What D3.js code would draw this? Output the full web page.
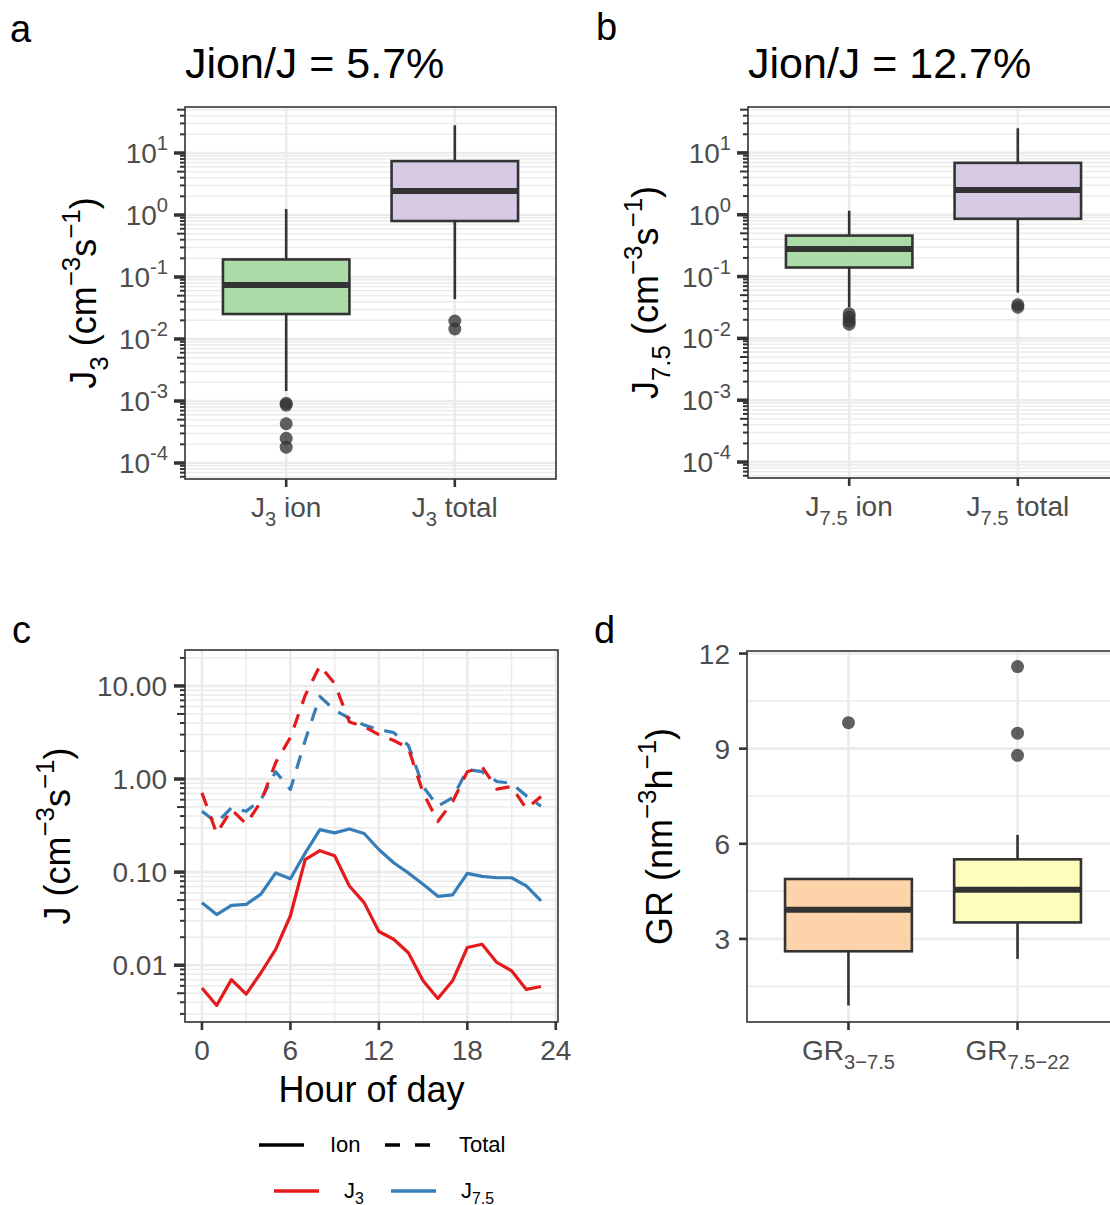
<!DOCTYPE html>
<html>
<head>
<meta charset="utf-8">
<script src="https://cdn.jsdelivr.net/npm/d3@7"></script>
<style>
  body { margin: 0; background: #fff; }
  svg { display: block; }
</style>
</head>
<body>
<div id="canvas"></div>
<script>
"use strict";

// ---- data ----
// box stats (lo/hi = whisker ends)
let boxA = [
  { lo: 0.00145, q1: 0.0253, med: 0.074, q3: 0.192, hi: 1.25, out: [0.00092, 0.00086, 0.00043, 0.00025, 0.00018] },
  { lo: 0.044, q1: 0.80, med: 2.44, q3: 7.4, hi: 28, out: [0.0195, 0.0145] }
];
let boxB = [
  { lo: 0.032, q1: 0.14, med: 0.28, q3: 0.46, hi: 1.16, out: [0.025, 0.022, 0.019, 0.017] },
  { lo: 0.055, q1: 0.86, med: 2.5, q3: 6.9, hi: 25, out: [0.035, 0.032] }
];
let boxD = [
  { lo: 0.9, q1: 2.61, med: 3.92, q3: 4.89, hi: 4.89, out: [9.82] },
  { lo: 2.37, q1: 3.52, med: 4.55, q3: 5.51, hi: 6.28, out: [11.59, 9.49, 8.79] }
];
let titleA = "Jion/J = 5.7%";
let titleB = "Jion/J = 12.7%";
let catLabelsA = [["J", "_3", " ion"], ["J", "_3", " total"]];
let catLabelsB = [["J", "_7.5", " ion"], ["J", "_7.5", " total"]];
let catLabelsD = [["GR", "_3\u22127.5"], ["GR", "_7.5\u221222"]];

let hours = d3.range(0, 24);
let j3Ion = [0.0057, 0.0037, 0.0070, 0.0049, 0.0083, 0.0148, 0.034, 0.136, 0.17, 0.15, 0.071, 0.047,
             0.023, 0.019, 0.0136, 0.0068, 0.0044, 0.0068, 0.0155, 0.0168, 0.0107, 0.0087, 0.0055, 0.0059];
let j75Ion = [0.047, 0.035, 0.044, 0.045, 0.058, 0.098, 0.085, 0.16, 0.286, 0.264, 0.291, 0.26,
              0.175, 0.126, 0.098, 0.074, 0.055, 0.057, 0.097, 0.090, 0.087, 0.087, 0.071, 0.049];
let j3Total = [0.71, 0.26, 0.47, 0.33, 0.57, 1.5, 2.8, 7.9, 16.5, 10.6, 4.1, 3.66,
               3.0, 2.6, 2.15, 0.71, 0.35, 0.57, 1.2, 1.36, 0.78, 0.83, 0.48, 0.65];
let j75Total = [0.45, 0.34, 0.49, 0.45, 0.60, 1.2, 0.77, 2.6, 7.7, 5.5, 4.5, 3.8,
                3.4, 3.16, 2.3, 0.83, 0.51, 0.63, 1.26, 1.2, 0.94, 0.9, 0.66, 0.51];
let hourTicks = [0, 6, 12, 18, 24];
let cTicks = [0.01, 0.1, 1, 10];
let cTickLabels = ["0.01", "0.10", "1.00", "10.00"];
let dTicks = [3, 6, 9, 12];

// ---- look ----
let svgWidth = 1110;
let svgHeight = 1205;
let font = "'Liberation Sans', Arial, Helvetica, sans-serif";
let dark = "#333333";
let gridCol = "#ebebeb";
let tickTextCol = "#4d4d4d";
let red = "#e41a1c";
let blue = "#377eb8";

let svg = d3.select("#canvas")
  .append("svg")
  .attr("width", svgWidth)
  .attr("height", svgHeight)
  .style("font-family", font);

// text with _sub and ^sup parts
function richText(g, x, y, parts, size, opts) {
  opts = opts || {};
  let subK = opts.sub || 0.32;
  let t = g.append("text")
    .attr("x", x)
    .attr("y", y)
    .attr("font-size", size)
    .attr("fill", opts.color || "#000")
    .attr("text-anchor", opts.anchor || "start");
  if (opts.rotate) t.attr("transform", "rotate(-90," + x + "," + y + ")");
  let cur = 0;
  parts.forEach(function(p) {
    let off = 0, fs = size, s = p;
    if (p[0] === "_") { off = subK * size; fs = 0.72 * size; s = p.slice(1); }
    else if (p[0] === "^") { off = -0.45 * size; fs = 0.72 * size; s = p.slice(1); }
    t.append("tspan").attr("dy", off - cur).attr("font-size", fs).text(s);
    cur = off;
  });
  return t;
}

function logValues(lo, hi, mults) {
  let vals = [];
  for (let e = Math.floor(Math.log10(lo)) - 1; e <= Math.ceil(Math.log10(hi)); e++) {
    mults.forEach(function(m) {
      let v = m * Math.pow(10, e);
      if (v >= lo && v <= hi) vals.push({ v: v, m: m });
    });
  }
  return vals;
}

function hLines(g, yScale, vals, x0, x1, width) {
  g.selectAll(null).data(vals).enter().append("line")
    .attr("x1", x0).attr("x2", x1)
    .attr("y1", function(d) { return yScale(d.v !== undefined ? d.v : d); })
    .attr("y2", function(d) { return yScale(d.v !== undefined ? d.v : d); })
    .attr("stroke", gridCol)
    .attr("stroke-width", width);
}

function vLines(g, xScale, vals, y0, y1, width) {
  g.selectAll(null).data(vals).enter().append("line")
    .attr("y1", y0).attr("y2", y1)
    .attr("x1", function(d) { return xScale(d); })
    .attr("x2", function(d) { return xScale(d); })
    .attr("stroke", gridCol)
    .attr("stroke-width", width);
}

// log ticks drawn just left of the panel
function logTicks(g, yScale, x0) {
  let dom = yScale.domain();
  let vals = logValues(dom[0], dom[1], [1, 2, 3, 4, 5, 6, 7, 8, 9]);
  g.selectAll(null).data(vals).enter().append("line")
    .attr("x1", function(d) { return x0 - (d.m === 1 ? 11 : d.m === 5 ? 8 : 5); })
    .attr("x2", x0)
    .attr("y1", function(d) { return yScale(d.v); })
    .attr("y2", function(d) { return yScale(d.v); })
    .attr("stroke", dark)
    .attr("stroke-width", function(d) { return d.m === 1 ? 3.5 : 2; });
}

function logGrid(g, yScale, x0, x1) {
  let dom = yScale.domain();
  hLines(g, yScale, logValues(dom[0], dom[1], [2, 3, 4, 5, 6, 7, 8, 9]), x0, x1, 1.5);
  hLines(g, yScale, logValues(dom[0], dom[1], [1]), x0, x1, 2.6);
}

function frame(g, x0, x1, y0, y1) {
  g.append("rect")
    .attr("x", x0).attr("y", y0)
    .attr("width", x1 - x0).attr("height", y1 - y0)
    .attr("fill", "none")
    .attr("stroke", dark)
    .attr("stroke-width", 1.6);
}

function bottomTicks(g, xs, xScale, y) {
  g.selectAll(null).data(xs).enter().append("line")
    .attr("x1", function(d) { return xScale(d); })
    .attr("x2", function(d) { return xScale(d); })
    .attr("y1", y).attr("y2", y + 8)
    .attr("stroke", dark)
    .attr("stroke-width", 2.6);
}

function drawBoxes(g, data, xScale, yScale, fills) {
  let half = (xScale(1.375) - xScale(1)) ;
  data.forEach(function(d, i) {
    let cx = xScale(i + 1);
    // whiskers
    g.append("line").attr("x1", cx).attr("x2", cx)
      .attr("y1", yScale(d.hi)).attr("y2", yScale(d.q3))
      .attr("stroke", dark).attr("stroke-width", 2.6);
    g.append("line").attr("x1", cx).attr("x2", cx)
      .attr("y1", yScale(d.q1)).attr("y2", yScale(d.lo))
      .attr("stroke", dark).attr("stroke-width", 2.6);
    g.append("rect")
      .attr("x", cx - half)
      .attr("y", yScale(d.q3))
      .attr("width", half * 2)
      .attr("height", yScale(d.q1) - yScale(d.q3))
      .attr("fill", fills[i])
      .attr("fill-opacity", 0.9)
      .attr("stroke", dark)
      .attr("stroke-width", 2.6);
    g.append("line")
      .attr("x1", cx - half).attr("x2", cx + half)
      .attr("y1", yScale(d.med)).attr("y2", yScale(d.med))
      .attr("stroke", dark).attr("stroke-width", 6);
    g.selectAll(null).data(d.out).enter().append("circle")
      .attr("cx", cx)
      .attr("cy", function(v) { return yScale(v); })
      .attr("r", 6.5)
      .attr("fill", dark)
      .attr("fill-opacity", 0.78);
  });
}

function panelLetter(txt, x, y) {
  svg.append("text").attr("x", x).attr("y", y)
    .attr("font-size", 38).attr("fill", "#000").text(txt);
}

// ---- panels a & b (log box plots) ----
function logBoxPanel(cfg) {
  let g = svg.append("g");
  let x = d3.scaleLinear().domain([0.4, 2.6]).range([cfg.x0, cfg.x1]);
  let y = d3.scaleLog().domain([Math.pow(10, -4.258), Math.pow(10, 1.742)]).range([cfg.y1, cfg.y0]);

  logGrid(g, y, cfg.x0, cfg.x1);
  vLines(g, x, [1, 2], cfg.y0, cfg.y1, 2.6);
  drawBoxes(g, cfg.data, x, y, cfg.fills);
  frame(g, cfg.x0, cfg.x1, cfg.y0, cfg.y1);
  logTicks(g, y, cfg.x0);
  bottomTicks(g, [1, 2], x, cfg.y1);

  // y tick labels 10^k
  [-4, -3, -2, -1, 0, 1].forEach(function(k) {
    richText(g, cfg.x0 - 17, y(Math.pow(10, k)) + 10, ["10", "^" + (k < 0 ? "-" : "") + Math.abs(k)], 28,
      { anchor: "end", color: tickTextCol });
  });
  cfg.labels.forEach(function(parts, i) {
    richText(g, x(i + 1), cfg.y1 + 38, parts, 28, { anchor: "middle", color: tickTextCol });
  });
  richText(g, cfg.ylabX, (cfg.y0 + cfg.y1) / 2, cfg.ylab, 36, { anchor: "middle", rotate: true });
  g.append("text").attr("x", cfg.x0).attr("y", 78)
    .attr("font-size", 43).attr("fill", "#000").text(cfg.title);
}

logBoxPanel({
  x0: 185, x1: 556, y0: 107, y1: 479, data: boxA,
  fills: ["#a3d89f", "#d3c4e1"], labels: catLabelsA, title: titleA,
  ylab: ["J", "_3", " (cm", "^\u22123", "s", "^\u22121", ")"], ylabX: 96
});
logBoxPanel({
  x0: 748, x1: 1119, y0: 107, y1: 478, data: boxB,
  fills: ["#a3d89f", "#d3c4e1"], labels: catLabelsB, title: titleB,
  ylab: ["J", "_7.5", " (cm", "^\u22123", "s", "^\u22121", ")"], ylabX: 658
});

// ---- panel c (diurnal lines) ----
(function() {
  let x0 = 185, x1 = 558, y0 = 650, y1 = 1022;
  let g = svg.append("g");
  let x = d3.scaleLinear().domain([-1.15, 24.15]).range([x0, x1]);
  let y = d3.scaleLog().domain([Math.pow(10, -2.61), Math.pow(10, 1.386)]).range([y1, y0]);

  logGrid(g, y, x0, x1);
  vLines(g, x, [3, 9, 15, 21], y0, y1, 1.5);
  vLines(g, x, hourTicks, y0, y1, 2.6);

  let line = d3.line()
    .x(function(d, i) { return x(hours[i]); })
    .y(function(d) { return y(d); });

  let series = [
    { v: j75Total, c: blue, dash: "14,11" },
    { v: j3Total, c: red, dash: "14,11" },
    { v: j75Ion, c: blue, dash: null },
    { v: j3Ion, c: red, dash: null }
  ];
  series.forEach(function(s) {
    g.append("path")
      .attr("d", line(s.v))
      .attr("fill", "none")
      .attr("stroke", s.c)
      .attr("stroke-width", 3.2)
      .attr("stroke-linejoin", "round")
      .attr("stroke-dasharray", s.dash);
  });

  frame(g, x0, x1, y0, y1);
  logTicks(g, y, x0);
  bottomTicks(g, hourTicks, x, y1);

  g.selectAll(null).data(hourTicks).enter().append("text")
    .attr("x", function(d) { return x(d); })
    .attr("y", y1 + 38)
    .attr("text-anchor", "middle")
    .attr("font-size", 28)
    .attr("fill", tickTextCol)
    .text(function(d) { return d; });
  g.selectAll(null).data(cTicks).enter().append("text")
    .attr("x", x0 - 18)
    .attr("y", function(d) { return y(d) + 10; })
    .attr("text-anchor", "end")
    .attr("font-size", 28)
    .attr("fill", tickTextCol)
    .text(function(d, i) { return cTickLabels[i]; });

  g.append("text")
    .attr("x", (x0 + x1) / 2).attr("y", 1102)
    .attr("text-anchor", "middle")
    .attr("font-size", 36)
    .text("Hour of day");
  richText(g, 70, (y0 + y1) / 2, ["J (cm", "^\u22123", "s", "^\u22121", ")"], 36, { anchor: "middle", rotate: true });

  // legend
  let lg = svg.append("g");
  let rows = [
    [{ x: 259, c: "#000", dash: null, label: ["Ion"], tx: 330 },
     { x: 385, c: "#000", dash: "15,15", label: ["Total"], tx: 459 }],
    [{ x: 274, c: red, dash: null, label: ["J", "_3"], tx: 344 },
     { x: 391, c: blue, dash: null, label: ["J", "_7.5"], tx: 461 }]
  ];
  let rowY = [1145, 1191];
  rows.forEach(function(row, r) {
    row.forEach(function(k) {
      lg.append("line")
        .attr("x1", k.x).attr("x2", k.x + 45)
        .attr("y1", rowY[r]).attr("y2", rowY[r])
        .attr("stroke", k.c)
        .attr("stroke-width", 3.6)
        .attr("stroke-dasharray", k.dash);
      richText(lg, k.tx, rowY[r] + 7, k.label, 22, { sub: 0.25 });
    });
  });
})();

// ---- panel d (growth rate boxes) ----
(function() {
  let x0 = 747, x1 = 1119, y0 = 651, y1 = 1022;
  let g = svg.append("g");
  let x = d3.scaleLinear().domain([0.4, 2.6]).range([x0, x1]);
  let y = d3.scaleLinear().domain([0.38, 12.08]).range([y1, y0]);

  hLines(g, y, [1.5, 4.5, 7.5, 10.5], x0, x1, 1.5);
  hLines(g, y, dTicks, x0, x1, 2.6);
  vLines(g, x, [1, 2], y0, y1, 2.6);
  drawBoxes(g, boxD, x, y, ["#fdcfa0", "#fefdb4"]);
  frame(g, x0, x1, y0, y1);
  bottomTicks(g, [1, 2], x, y1);

  g.selectAll(null).data(dTicks).enter().append("line")
    .attr("x1", x0 - 8).attr("x2", x0)
    .attr("y1", function(d) { return y(d); })
    .attr("y2", function(d) { return y(d); })
    .attr("stroke", dark).attr("stroke-width", 2.6);
  g.selectAll(null).data(dTicks).enter().append("text")
    .attr("x", x0 - 17)
    .attr("y", function(d) { return y(d) + 10; })
    .attr("text-anchor", "end")
    .attr("font-size", 28)
    .attr("fill", tickTextCol)
    .text(function(d) { return d; });
  catLabelsD.forEach(function(parts, i) {
    richText(g, x(i + 1), y1 + 38, parts, 28, { anchor: "middle", color: tickTextCol });
  });
  richText(g, 672, (y0 + y1) / 2, ["GR (nm", "^\u22123", "h", "^\u22121", ")"], 36, { anchor: "middle", rotate: true });
})();

panelLetter("a", 10, 42);
panelLetter("b", 596, 40);
panelLetter("c", 12, 643);
panelLetter("d", 594, 643);
</script>
</body>
</html>
